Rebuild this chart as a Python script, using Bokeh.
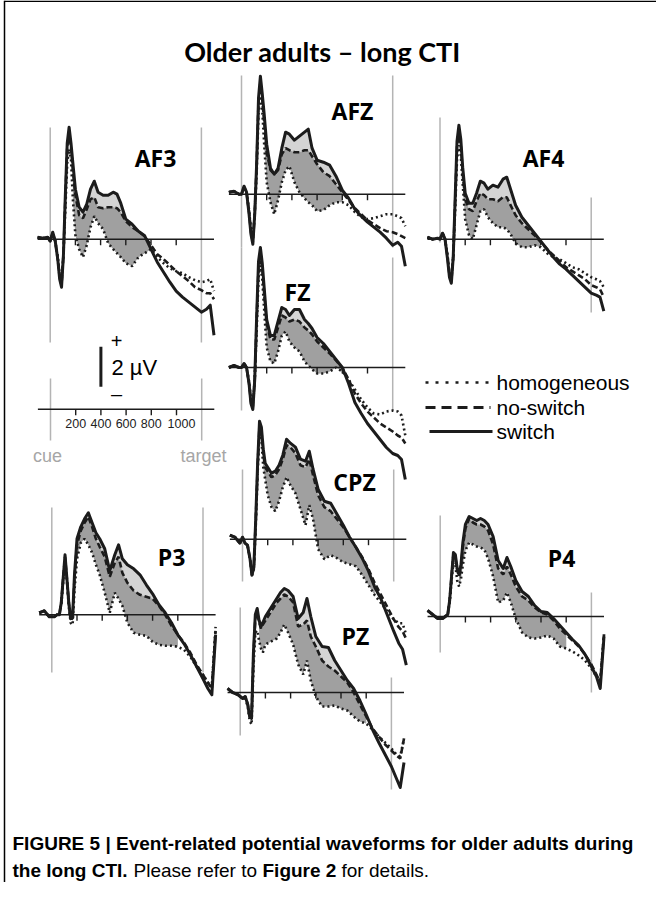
from bokeh.plotting import figure
from bokeh.models import Range1d, ColumnDataSource
from bokeh.embed import file_html
from bokeh.resources import INLINE
from bokeh.core.properties import value

# ---------------- data (time in ms, amplitude in microvolts) ----------------
TIME_MS = [-100, -60, -20, 0, 20, 40, 60, 75, 90, 105,
           120, 135, 150, 165, 180, 200, 230, 260, 290, 320,
           350, 380, 420, 460, 500, 530, 560, 600, 650, 700,
           750, 800, 850, 900, 950, 1000, 1050, 1100, 1150, 1200,
           1240, 1270, 1300]

AF3_SWITCH = [0.1, 0.05, 0.1, -0.1, 0.35, -0.1, -1.0, -2.0, -2.4, -0.8,
              2.2, 4.8, 5.6, 4.8, 3.8, 2.5, 1.6, 1.35, 1.75, 2.5,
              2.9, 2.35, 2.2, 2.2, 2.35, 2.25, 1.8, 1.0, 0.75, 0.4,
              0.17, -0.5, -1.15, -1.65, -2.15, -2.6, -2.9, -3.15, -3.4, -3.65,
              -3.5, -3.3, -4.8]
AF3_NOSWITCH = [0.1, 0.05, 0.1, -0.1, 0.3, -0.1, -1.0, -1.9, -2.3, -0.8,
                2.0, 4.6, 5.3, 4.6, 3.4, 2.2, 1.2, 1.05, 1.5, 2.0,
                2.1, 1.6, 1.55, 1.6, 1.6, 1.55, 1.35, 0.9, 0.6, 0.4,
                0.15, -0.3, -0.75, -1.0, -1.3, -1.6, -1.85, -2.1, -2.4, -2.55,
                -2.7, -2.7, -3.0]
AF3_HOMOG = [0.1, 0.05, 0.1, -0.1, 0.3, -0.1, -0.9, -1.8, -2.1, -0.8,
             1.5, 3.8, 4.5, 4.0, 2.0, 0.2, -0.5, -0.9, -0.3, 0.6,
             1.15, 0.8, 0.5, -0.2, -0.5, -0.7, -0.9, -1.2, -1.35, -0.9,
             -0.7, -0.5, -0.9, -1.2, -1.45, -1.6, -1.7, -1.9, -2.05, -2.15,
             -2.1, -2.0, -2.6]

AFZ_SWITCH = [0.1, 0.15, 0.0, 0.0, 0.4, 0.1, -1.0, -2.0, -2.5, -1.0,
              1.5, 4.8, 5.9, 5.0, 4.0, 2.5, 1.3, 1.0, 1.3, 2.3,
              3.1, 3.0, 2.7, 2.9, 3.1, 3.25, 2.3, 1.7, 1.6, 1.45,
              0.9, 0.2, -0.2, -0.75, -1.1, -1.4, -1.65, -1.9, -2.2, -2.55,
              -2.4, -2.6, -3.6]
AFZ_NOSWITCH = [0.1, 0.15, 0.0, 0.0, 0.35, 0.1, -0.9, -1.9, -2.4, -1.0,
                1.4, 4.6, 5.6, 4.7, 3.6, 2.1, 1.2, 1.0, 1.2, 2.0,
                2.3, 2.2, 2.1, 2.1, 2.2, 2.2, 1.9, 1.5, 1.1, 0.9,
                0.5, 0.1, -0.3, -0.7, -1.0, -1.3, -1.5, -1.7, -1.85, -1.9,
                -2.0, -2.1, -2.2]
AFZ_HOMOG = [0.1, 0.15, 0.0, 0.0, 0.3, 0.1, -0.8, -1.8, -2.2, -1.0,
             1.0, 4.0, 4.9, 4.2, 2.5, 0.6, -0.4, -1.0, -0.3, 0.6,
             1.2, 1.4, 0.6, 0.1, -0.2, -0.4, -0.55, -0.85, -0.8, -0.55,
             -0.4, -0.4, -0.55, -0.9, -1.15, -1.25, -1.2, -1.1, -1.0, -1.0,
             -1.1, -1.2, -1.6]

AF4_SWITCH = [0.1, 0.0, 0.05, 0.0, 0.3, 0.0, -1.0, -1.9, -2.2, -0.9,
              2.0, 4.9, 5.7, 5.0, 3.6, 2.3, 1.8, 1.8, 2.3, 2.9,
              2.8, 2.5, 2.7, 2.6, 3.0, 3.1, 2.5, 1.7, 1.1, 0.7,
              0.3, -0.1, -0.5, -0.9, -1.25, -1.5, -1.8, -2.1, -2.4, -2.7,
              -2.8, -2.9, -3.6]
AF4_NOSWITCH = [0.1, 0.0, 0.05, 0.0, 0.3, 0.0, -0.9, -1.8, -2.1, -0.9,
                1.8, 4.6, 5.4, 4.7, 3.3, 2.0, 1.5, 1.4, 1.9, 2.3,
                2.2, 2.0, 2.0, 1.9, 2.1, 2.1, 1.7, 1.2, 0.8, 0.5,
                0.2, -0.15, -0.5, -0.8, -1.1, -1.4, -1.6, -1.8, -2.0, -2.3,
                -2.4, -2.5, -2.9]
AF4_HOMOG = [0.1, 0.0, 0.05, 0.0, 0.3, 0.0, -0.8, -1.7, -2.0, -0.9,
             1.4, 4.0, 4.7, 4.2, 2.8, 1.0, 0.2, 0.0, 0.7, 1.4,
             1.5, 1.1, 0.8, 0.6, 0.6, 0.5, 0.25, -0.2, -0.4, -0.4,
             -0.3, -0.4, -0.7, -0.9, -1.0, -1.2, -1.4, -1.5, -1.7, -1.9,
             -2.0, -2.1, -2.4]

FZ_SWITCH = [0.0, 0.1, 0.0, 0.0, 0.2, 0.0, -0.8, -1.8, -2.1, -0.6,
             2.5, 5.3, 6.0, 5.2, 4.0, 2.4, 1.6, 1.6, 2.3, 3.0,
             2.9, 2.6, 2.9, 2.9, 2.4, 2.2, 1.95, 1.5, 1.2, 0.8,
             0.4, 0.0, -0.8, -1.75, -2.3, -2.8, -3.2, -3.6, -4.0, -4.3,
             -4.4, -4.6, -5.6]
FZ_NOSWITCH = [0.0, 0.1, 0.0, 0.0, 0.2, 0.0, -0.8, -1.7, -2.0, -0.6,
               2.3, 5.0, 5.7, 4.9, 3.7, 2.2, 1.4, 1.4, 2.0, 2.6,
               2.5, 2.3, 2.4, 2.3, 2.0, 1.85, 1.65, 1.3, 1.0, 0.7,
               0.35, 0.0, -0.6, -1.3, -1.8, -2.2, -2.5, -2.8, -3.0, -3.2,
               -3.4, -3.5, -3.8]
FZ_HOMOG = [0.0, 0.1, 0.0, 0.0, 0.2, 0.0, -0.7, -1.6, -1.9, -0.6,
            1.8, 4.5, 5.1, 4.4, 2.9, 1.0, 0.3, 0.2, 0.8, 1.6,
            1.8, 1.3, 1.0, 0.8, 0.3, 0.1, -0.1, -0.3, -0.3, -0.2,
            0.0, -0.2, -0.6, -1.1, -1.6, -2.0, -2.3, -2.35, -2.2, -2.15,
            -2.2, -2.4, -3.4]

CPZ_SWITCH = [0.2, 0.1, -0.2, 0.1, -0.2, -0.3, -1.0, -1.8, -1.4, 1.0,
              3.8, 5.9, 5.6, 4.5, 3.8, 3.6, 3.3, 3.4, 3.7, 4.2,
              5.0, 4.8, 4.6, 4.0, 3.9, 4.4, 3.5, 2.5, 1.9, 1.8,
              1.25, 0.7, 0.1, -0.4, -0.95, -1.6, -2.4, -3.0, -3.8, -4.6,
              -5.2, -5.5, -6.3]
CPZ_NOSWITCH = [0.2, 0.1, -0.2, 0.1, -0.2, -0.3, -1.0, -1.8, -1.4, 0.9,
                3.6, 5.7, 5.4, 4.3, 3.6, 3.4, 3.1, 3.2, 3.5, 4.0,
                4.7, 4.6, 4.3, 3.7, 3.6, 4.0, 3.2, 2.2, 1.6, 1.4,
                1.0, 0.6, 0.1, -0.4, -0.9, -1.5, -2.2, -2.8, -3.4, -4.0,
                -4.4, -4.6, -5.0]
CPZ_HOMOG = [0.2, 0.1, -0.2, 0.1, -0.2, -0.3, -1.0, -1.8, -1.5, 0.6,
             3.3, 5.4, 5.0, 3.6, 3.0, 2.2, 1.6, 1.4, 1.9, 2.6,
             3.1, 2.7, 2.3, 1.5, 0.7, 1.7, 1.0, -0.5, -1.0, -0.8,
             -0.95, -1.15, -1.25, -1.35, -1.8, -2.3, -2.8, -3.2, -3.6, -4.0,
             -4.2, -4.2, -4.8]

PZ_SWITCH = [0.2, 0.0, -0.1, -0.2, -0.3, -0.2, -0.6, -1.2, -1.3, 2.0,
             3.9, 4.2, 3.6, 3.3, 3.5, 3.8, 4.1, 4.4, 4.7, 5.0,
             5.2, 5.1, 4.8, 3.7, 4.0, 4.7, 3.8, 2.8, 2.3, 2.25,
             1.6, 1.1, 0.6, 0.2, -0.4, -1.1, -1.85, -2.5, -3.1, -3.7,
             -4.3, -4.75, -3.5]
PZ_NOSWITCH = [0.2, 0.0, -0.1, -0.2, -0.3, -0.2, -0.6, -1.2, -1.3, 1.8,
               3.7, 4.0, 3.5, 3.2, 3.4, 3.6, 3.9, 4.2, 4.5, 4.7,
               4.9, 4.8, 4.5, 3.3, 3.4, 3.6, 2.8, 2.3, 1.6, 1.3,
               1.1, 0.8, 0.5, 0.0, -0.6, -1.2, -1.8, -2.2, -2.6, -2.9,
               -3.15, -3.3, -2.3]
PZ_HOMOG = [0.2, 0.0, -0.1, -0.2, -0.3, -0.3, -0.7, -1.4, -1.6, 1.2,
            3.0, 3.1, 2.6, 2.2, 2.0, 2.4, 2.5, 2.6, 2.7, 3.0,
            3.4, 3.0, 2.4, 1.4, 0.9, 1.6, 0.6, -0.2, -0.7, -0.7,
            -0.65, -0.8, -0.9, -1.2, -1.45, -1.55, -1.85, -2.2, -2.5, -2.8,
            -3.1, -3.2, -2.3]

P3_SWITCH = [0.1, 0.2, -0.1, -0.1, -0.1, 0.0, 0.0, 0.6, 1.8, 3.0,
             1.8, 0.6, -0.2, -0.1, 2.0, 3.8, 4.4, 4.8, 5.1, 4.6,
             4.1, 3.8, 3.3, 2.2, 3.0, 3.5, 2.8, 2.5, 2.3, 2.0,
             1.5, 1.05, 0.5, 0.1, -0.4, -1.0, -1.45, -2.0, -2.6, -3.2,
             -3.7, -4.0, -1.0]
P3_NOSWITCH = [0.1, 0.2, -0.1, -0.1, -0.1, 0.0, 0.0, 0.6, 1.8, 2.9,
               1.8, 0.6, -0.2, -0.2, 1.8, 3.5, 4.2, 4.6, 4.9, 4.4,
               3.8, 3.4, 2.9, 1.9, 2.6, 2.9, 2.1, 1.6, 1.2, 1.0,
               0.9, 0.8, 0.45, 0.0, -0.55, -1.0, -1.4, -1.9, -2.5, -3.0,
               -3.4, -3.7, -0.8]
P3_HOMOG = [0.1, 0.2, -0.1, -0.1, -0.1, 0.0, 0.0, 0.5, 1.6, 2.7,
            1.7, 0.4, -0.4, -0.5, 1.2, 2.8, 3.6, 3.8, 3.5, 3.1,
            2.5, 2.0, 1.1, 0.1, 1.1, 0.8, 0.45, -0.4, -0.9, -1.0,
            -1.05, -1.35, -1.5, -1.55, -1.55, -1.6, -1.75, -2.1, -2.6, -3.0,
            -3.4, -3.6, -0.6]

P4_SWITCH = [0.3, 0.1, -0.1, -0.1, -0.1, 0.0, 0.1, 0.8, 2.0, 3.2,
             3.1, 2.4, 2.1, 2.6, 3.7, 4.6, 5.0, 4.9, 4.8, 4.9,
             4.8, 4.6, 4.0, 2.8, 2.4, 2.95, 2.5, 1.8, 1.25, 1.0,
             0.55, 0.25, 0.2, -0.1, -0.45, -0.8, -1.15, -1.45, -1.9, -2.5,
             -3.0, -3.6, -1.0]
P4_NOSWITCH = [0.3, 0.1, -0.1, -0.1, -0.1, 0.0, 0.1, 0.8, 2.0, 3.1,
               3.0, 2.3, 2.0, 2.5, 3.5, 4.4, 4.9, 4.7, 4.6, 4.6,
               4.5, 4.3, 3.6, 2.4, 2.1, 2.5, 2.1, 1.5, 1.0, 0.8,
               0.45, 0.2, 0.1, -0.2, -0.6, -0.9, -1.2, -1.5, -1.9, -2.4,
               -2.9, -3.3, -0.9]
P4_HOMOG = [0.3, 0.1, -0.1, -0.1, -0.1, 0.0, 0.1, 0.7, 1.8, 2.7,
            2.6, 1.8, 1.5, 1.9, 2.6, 3.3, 3.7, 3.6, 3.5, 3.45,
            3.35, 2.9, 2.0, 0.7, 0.8, 1.2, 0.7, -0.1, -0.8, -1.05,
            -1.1, -1.05, -0.95, -1.1, -1.5, -1.6, -1.75, -1.95, -2.2, -2.6,
            -3.0, -3.2, -0.9]

# shaded time windows (ms)
FILL_AF3 = (180, 800)
FILL_AFZ = (180, 800)
FILL_AF4 = (180, 800)
FILL_FZ = (180, 800)
FILL_CPZ = (150, 1050)
FILL_PZ = (150, 1000)
FILL_P3 = (165, 1000)
FILL_P4 = (150, 1000)

TICKS_MS = [200, 400, 600, 800, 1000]
CUE_MS = 0
TARGET_MS = 1200
EPOCH_MS = (-100, 1300)
SCALE_BAR_UV = 2
LEGEND_LABELS = ["homogeneous", "no-switch", "switch"]

TITLE = "Older adults \u2013 long CTI"

# ---------------- layout (page pixels) ----------------
W, H = 656, 882
OFF = 8
PX_MS = 0.126   # pixels per millisecond
PX_UV = 20.0    # pixels per microvolt

INK = "#1c1c1c"
GRAY_LINE = "#b4b4b4"
LIGHT_FILL = "#d4d4d4"
DARK_FILL = "#a0a0a0"

# name, series(homog, noswitch, switch), fill window, x of t=0, y of 0 uV,
# label position, left gray extent, right gray extent
PANELS = [
    ("AF3", AF3_HOMOG, AF3_NOSWITCH, AF3_SWITCH, FILL_AF3, 57.7, 246.7, (163, 165), (135, 350), (135, 350)),
    ("AFZ", AFZ_HOMOG, AFZ_NOSWITCH, AFZ_SWITCH, FILL_AFZ, 249.0, 201.7, (360, 118), (83, 255), (83, 255)),
    ("AF4", AF4_HOMOG, AF4_NOSWITCH, AF4_SWITCH, FILL_AF4, 447.5, 246.7, (551, 165), (125, 250), (205, 320)),
    ("FZ", FZ_HOMOG, FZ_NOSWITCH, FZ_SWITCH, FILL_FZ, 249.0, 375.0, (305, 299), (255, 418), (265, 418)),
    ("CPZ", CPZ_HOMOG, CPZ_NOSWITCH, CPZ_SWITCH, FILL_CPZ, 250.0, 546.7, (362, 489), (477, 589), (477, 589)),
    ("PZ", PZ_HOMOG, PZ_NOSWITCH, PZ_SWITCH, FILL_PZ, 247.7, 700.0, (363, 643), (615, 743), (685, 797)),
    ("P3", P3_HOMOG, P3_NOSWITCH, P3_SWITCH, FILL_P3, 59.3, 622.3, (179, 564), (515, 680), (515, 680)),
    ("P4", P4_HOMOG, P4_NOSWITCH, P4_SWITCH, FILL_P4, 447.7, 624.0, (569, 565), (523, 660), (600, 700)),
]
SCALE_X0, SCALE_Y0 = 58.0, 416.7

p = figure(width=W, height=H, x_range=Range1d(0, W), y_range=Range1d(H, 0),
           output_backend="svg", toolbar_location=None, min_border=0,
           background_fill_color="white", border_fill_color="white")
p.xaxis.visible = False
p.yaxis.visible = False
p.xgrid.visible = False
p.ygrid.visible = False
p.outline_line_color = None

xr, yr = {}, {}
for row in PANELS + [("SCALE", None, None, None, None, SCALE_X0, SCALE_Y0, None, None, None)]:
    name, x0, y0 = row[0], row[5], row[6]
    cx0, cy0 = x0 - OFF, y0 - OFF
    xr["t_" + name] = Range1d(-cx0 / PX_MS, (W - cx0) / PX_MS)
    yr["v_" + name] = Range1d((cy0 - H) / PX_UV, cy0 / PX_UV)
p.extra_x_ranges = xr
p.extra_y_ranges = yr


def px(X):
    return X - OFF


def txt(x, y, s, size, font="Liberation Sans", style="normal", color="black",
        align="left", baseline="middle"):
    p.text(x=[px(x)], y=[px(y)], text=[s], text_font=value(font),
           text_font_style=style, text_font_size=size, text_color=color,
           text_align=align, text_baseline=baseline)


# frame of the figure page
p.segment(x0=[px(12)], y0=[0.75], x1=[px(668)], y1=[0.75], line_color="black", line_width=1.5)
p.segment(x0=[px(12)], y0=[0], x1=[px(12)], y1=[H], line_color="black", line_width=1.5)
p.segment(x0=[px(668)], y0=[0], x1=[px(668)], y1=[H], line_color="#666666", line_width=1.5)

txt(330, 59, TITLE, "27px", font="Lato", style="bold", align="center")

tick_len = 6 / PX_UV
for name, homog, nosw, sw, win, x0, y0, lab, gl, gr in PANELS:
    kw = dict(x_range_name="t_" + name, y_range_name="v_" + name)
    # cue / target markers
    p.segment(x0=[CUE_MS, TARGET_MS], x1=[CUE_MS, TARGET_MS],
              y0=[(y0 - gl[0]) / PX_UV, (y0 - gr[0]) / PX_UV],
              y1=[(y0 - gl[1]) / PX_UV, (y0 - gr[1]) / PX_UV],
              line_color=GRAY_LINE, line_width=1.5, **kw)
    idx = [i for i, t in enumerate(TIME_MS) if win[0] <= t <= win[1]]
    tx = [TIME_MS[i] for i in idx]
    p.varea(x=tx, y1=[sw[i] for i in idx], y2=[homog[i] for i in idx],
            fill_color=LIGHT_FILL, **kw)
    p.varea(x=tx, y1=[nosw[i] for i in idx], y2=[homog[i] for i in idx],
            fill_color=DARK_FILL, **kw)
    # zero line with ticks
    p.segment(x0=[EPOCH_MS[0]], x1=[EPOCH_MS[1]], y0=[0], y1=[0],
              line_color=INK, line_width=1.6, **kw)
    p.segment(x0=TICKS_MS, x1=TICKS_MS, y0=[0] * len(TICKS_MS), y1=[-tick_len] * len(TICKS_MS),
              line_color=INK, line_width=1.4, **kw)
    p.line(TIME_MS, homog, line_color=INK, line_width=2.6, line_dash="2 3", **kw)
    p.line(TIME_MS, nosw, line_color=INK, line_width=2.6, line_dash="6 3", **kw)
    p.line(TIME_MS, sw, line_color=INK, line_width=3.0, line_join="round", **kw)
    txt(lab[0], lab[1], name, "23px", font="Open Sans", style="bold", align="center")

# time scale axis and voltage scale bar
kw = dict(x_range_name="t_SCALE", y_range_name="v_SCALE")
p.segment(x0=[CUE_MS, TARGET_MS], x1=[CUE_MS, TARGET_MS],
          y0=[(SCALE_Y0 - 386) / PX_UV] * 2, y1=[(SCALE_Y0 - 448) / PX_UV] * 2,
          line_color=GRAY_LINE, line_width=1.5, **kw)
p.segment(x0=[EPOCH_MS[0]], x1=[EPOCH_MS[1]], y0=[0], y1=[0], line_color=INK, line_width=1.6, **kw)
p.segment(x0=TICKS_MS, x1=TICKS_MS, y0=[0] * len(TICKS_MS), y1=[-tick_len] * len(TICKS_MS),
          line_color=INK, line_width=1.4, **kw)
tick_src = ColumnDataSource(dict(
    x=TICKS_MS, y=[-14.5 / PX_UV] * len(TICKS_MS), text=[str(t) for t in TICKS_MS],
    dx=[0, 0, 0, 0, 5]))
p.text(x="x", y="y", text="text", x_offset="dx", source=tick_src,
       text_font=value("Liberation Sans"), text_font_size="12.5px", text_color="#222222",
       text_align="center", text_baseline="middle", **kw)
bar_base = (SCALE_Y0 - 394.3) / PX_UV
p.segment(x0=[400], x1=[400], y0=[bar_base], y1=[bar_base + SCALE_BAR_UV],
          line_color=INK, line_width=3, **kw)
txt(119, 375, f"{SCALE_BAR_UV} \u00b5V", "22px")
txt(124, 348, "+", "20px", align="center")
txt(124, 401, "\u2013", "20px", align="center")
txt(55, 463, "cue", "18px", color="#a6a6a6", align="center")
txt(211, 463, "target", "18px", color="#a6a6a6", align="center")

# legend
leg_y = [390, 415, 439]
p.segment(x0=[px(433)], x1=[px(498)], y0=[px(leg_y[0])], y1=[px(leg_y[0])],
          line_color=INK, line_width=2.6, line_dash="3 7")
p.segment(x0=[px(433)], x1=[px(498)], y0=[px(leg_y[1])], y1=[px(leg_y[1])],
          line_color=INK, line_width=3, line_dash="10 6")
p.segment(x0=[px(437)], x1=[px(500)], y0=[px(leg_y[2])], y1=[px(leg_y[2])],
          line_color=INK, line_width=3)
for lbl, yy in zip(LEGEND_LABELS, leg_y):
    txt(504, yy, lbl, "21px")

# caption
txt(20, 851, "FIGURE 5 | Event-related potential waveforms for older adults during", "19px", style="bold")
txt(20, 878, "the long CTI.", "19px", style="bold")
txt(141, 878, "Please refer to", "19px")
txt(270, 878, "Figure 2", "19px", style="bold")
txt(349, 878, "for details.", "19px")

open("out.html", "w").write(file_html(p, INLINE))
